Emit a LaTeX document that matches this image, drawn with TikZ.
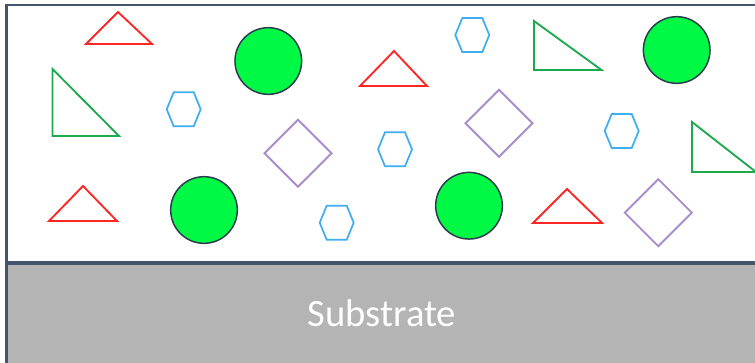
\documentclass[tikz,border=0pt]{standalone}
\usepackage{fontspec}
\setmainfont{Carlito}
\definecolor{trired}{HTML}{FF2626}
\definecolor{trigreen}{HTML}{1DAA4F}
\definecolor{hexblue}{HTML}{3FAEF0}
\definecolor{diampurple}{HTML}{A98CCB}
\definecolor{ballfill}{HTML}{00F944}
\definecolor{balledge}{HTML}{2B3A4E}
\definecolor{framecol}{HTML}{44546A}
\definecolor{subgray}{HTML}{B4B4B4}
\tikzset{
  redtri/.style={draw=trired, line width=1.4pt},
  greentri/.style={draw=trigreen, line width=1.4pt},
  hexshape/.style={draw=hexblue, line width=1.3pt},
  diamshape/.style={draw=diampurple, line width=1.4pt},
  ball/.style={draw=balledge, fill=ballfill, line width=1.1pt},
  layerbox/.style={draw=framecol, line width=2pt},
  subbox/.style={draw=framecol, fill=subgray, line width=2.4pt},
  sublabel/.style={text=white, font=\fontsize{29}{33}\selectfont, inner sep=0pt}
}
\begin{document}
\begin{tikzpicture}[x=0.75pt,y=-0.75pt]
\useasboundingbox (0,0) rectangle (755,362);
% film layer and substrate
\path[layerbox, fill=white] (6.5,5) rectangle (770,263);
\path[subbox] (6.5,263) rectangle (770,375);
\node[sublabel] (substrate) at (382,313) {Substrate};
% red triangles
\draw[redtri] (86,44) -- (152,44) -- (118,12) -- cycle;
\draw[redtri] (360,86) -- (427,86) -- (394,51) -- cycle;
\draw[redtri] (49,221) -- (117,221) -- (83,186) -- cycle;
\draw[redtri] (533,223) -- (602,223) -- (567,189) -- cycle;
% green right triangles
\draw[greentri] (52.5,69) -- (52.5,136) -- (119,136) -- cycle;
\draw[greentri] (534,21) -- (534,70) -- (601.5,70) -- cycle;
\draw[greentri] (692,122) -- (692,172) -- (756,172) -- cycle;
% green circles
\foreach \cx/\cy in {268.3/61, 676.7/50, 204/210, 469/205.7}
  \draw[ball] (\cx,\cy) circle[radius=25pt];
% blue hexagons
\foreach \cx/\cy in {183.7/109.3, 472.3/35, 395/149.3, 621.7/131, 336.7/222.7}
  \draw[hexshape] (\cx,\cy) ++(-17,0) -- ++(7,-17) -- ++(20,0) -- ++(7,17) -- ++(-7,17) -- ++(-20,0) -- cycle;
% purple diamonds
\foreach \cx/\cy in {298/153.3, 499/123.3, 658.3/212.7}
  \draw[diamshape] (\cx,\cy) ++(0,-33.5) -- ++(33.5,33.5) -- ++(-33.5,33.5) -- ++(-33.5,-33.5) -- cycle;
\end{tikzpicture}
\end{document}
